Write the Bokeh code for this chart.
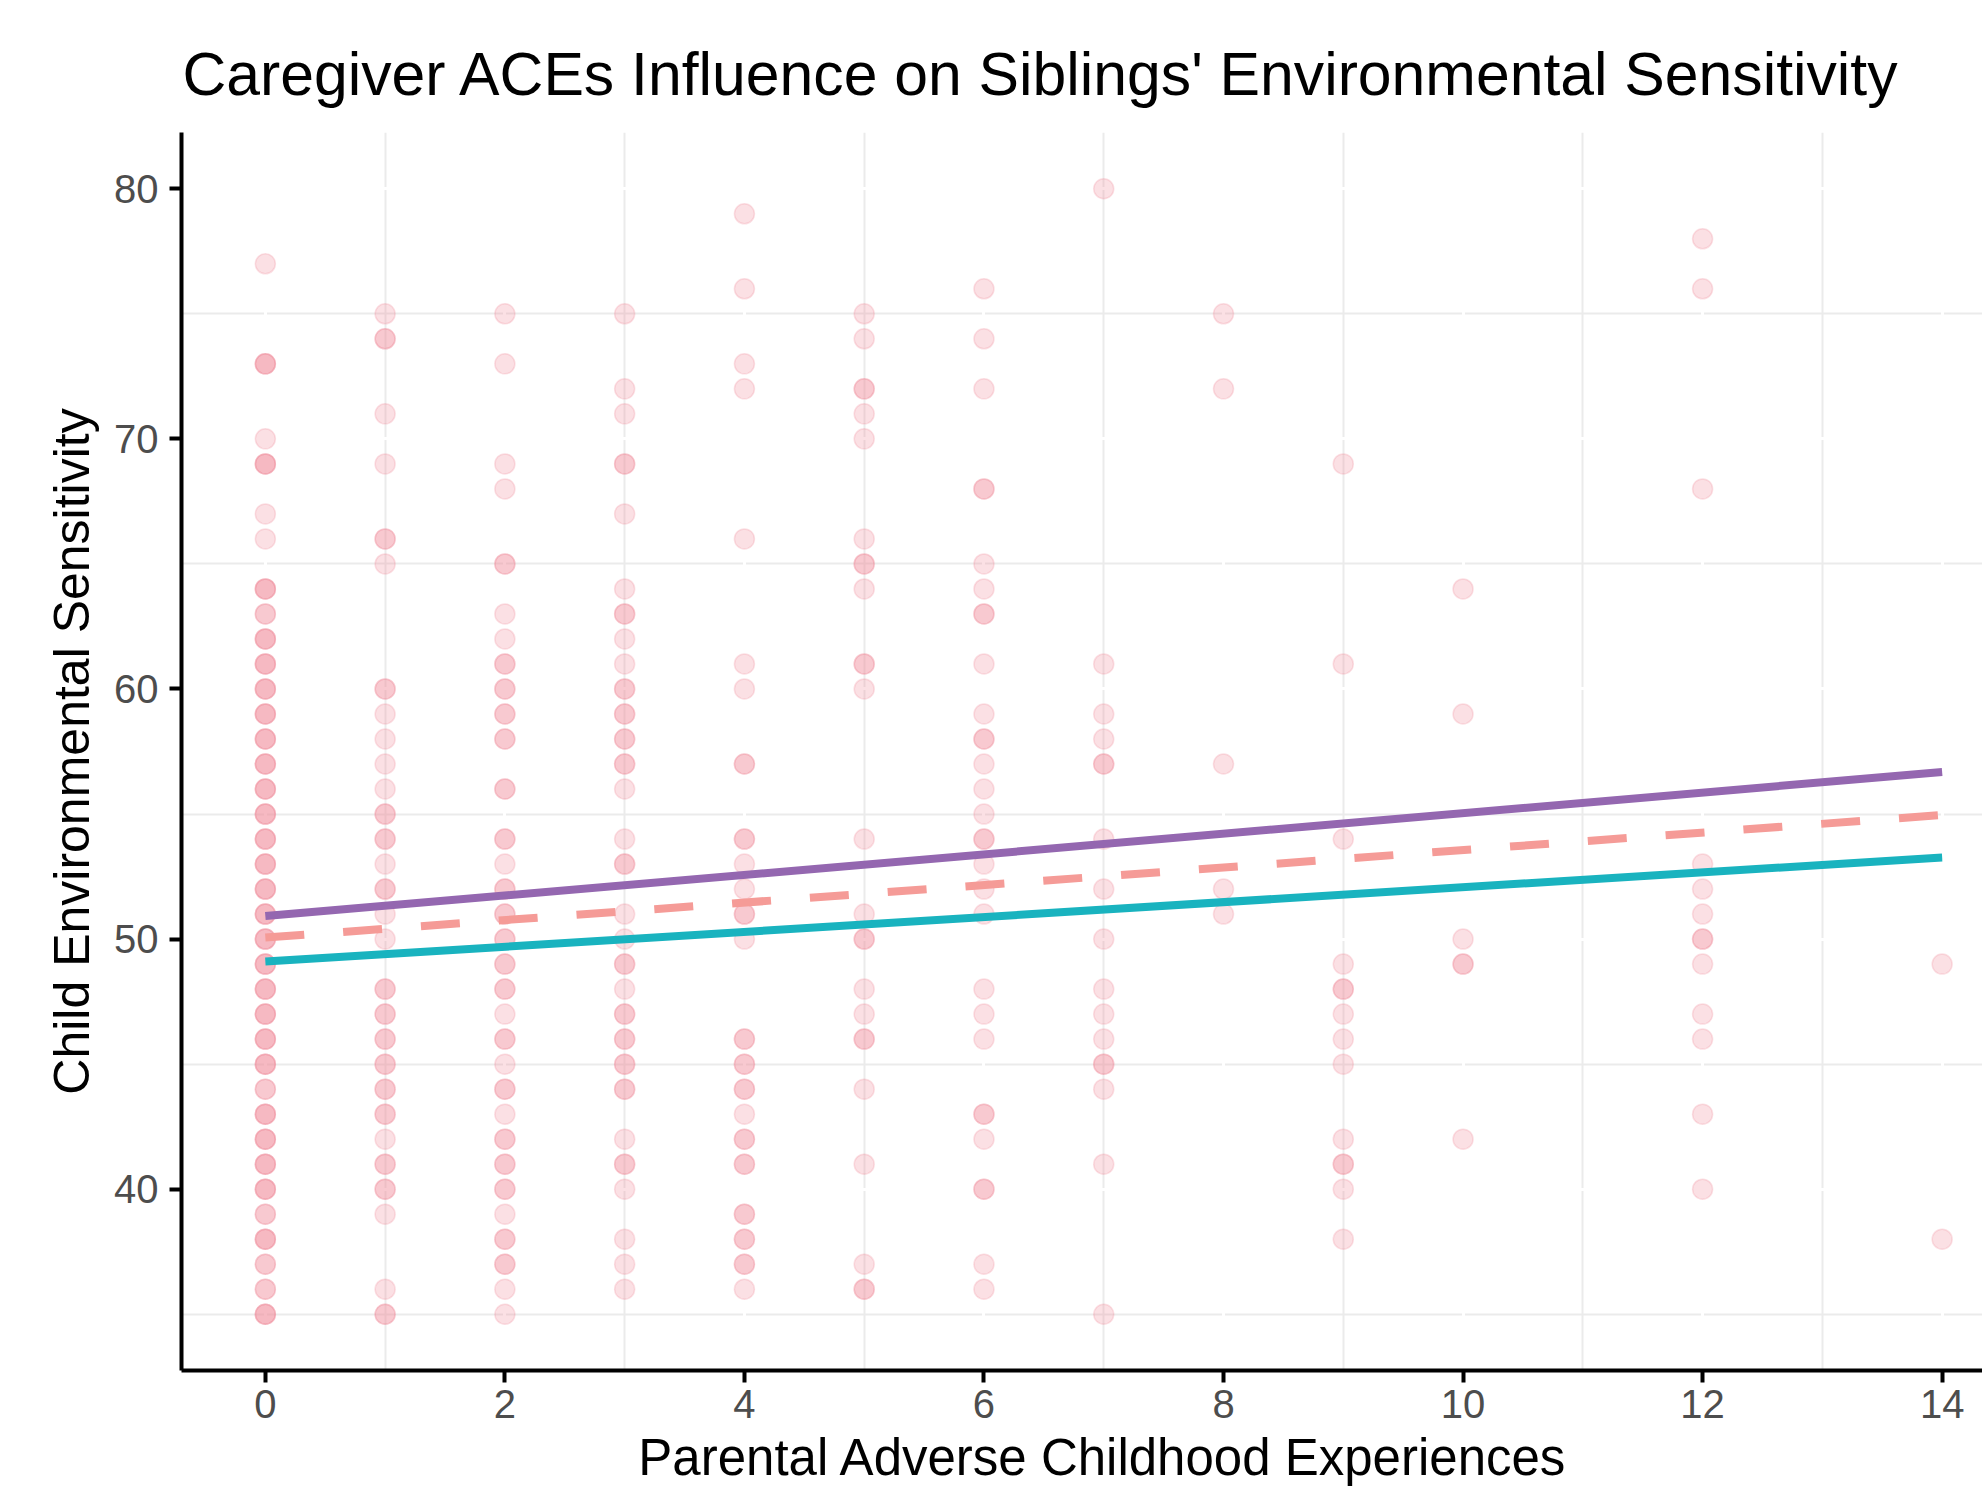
from bokeh.plotting import figure
from bokeh.models import Range1d, FixedTicker, Grid
from bokeh.embed import file_html
from bokeh.resources import INLINE

# ---------------- data ----------------
title_text = "Caregiver ACEs Influence on Siblings' Environmental Sensitivity"
x_title = "Parental Adverse Childhood Experiences"
y_title = "Child Environmental Sensitivity"

x_ticks = [0, 2, 4, 6, 8, 10, 12, 14]
x_minor = [1, 3, 5, 7, 9, 11, 13]
y_ticks = [40, 50, 60, 70, 80]
y_minor = [35, 45, 55, 65, 75]

# observed sensitivity scores per parental ACE count, with overlap counts
col0_y = [77, 73, 70, 69, 67, 66, 64, 63, 62, 61, 60, 59, 58, 57, 56, 55, 54, 53, 52, 51,
          50, 49, 48, 47, 46, 45, 44, 43, 42, 41, 40, 39, 38, 37, 36, 35]
col0_n = [1, 3, 1, 3, 1, 1, 3, 2, 3, 3, 3, 3, 3, 3, 3, 3, 3, 3, 3, 3,
          3, 3, 3, 3, 3, 3, 2, 3, 3, 3, 3, 2, 3, 2, 2, 3]
col1_y = [75, 74, 71, 69, 66, 65, 60, 59, 58, 57, 56, 55, 54, 53, 52, 51, 50, 48, 47, 46,
          45, 44, 43, 42, 41, 40, 39, 36, 35]
col1_n = [1, 2, 1, 1, 2, 1, 2, 1, 1, 1, 1, 2, 2, 1, 2, 1, 1, 2, 2, 2,
          2, 2, 2, 1, 2, 2, 1, 1, 2]
col2_y = [75, 73, 69, 68, 65, 63, 62, 61, 60, 59, 58, 56, 54, 53, 52, 51, 50, 49, 48, 47,
          46, 45, 44, 43, 42, 41, 40, 39, 38, 37, 36, 35]
col2_n = [1, 1, 1, 1, 2, 1, 1, 2, 2, 2, 2, 2, 2, 1, 2, 2, 2, 2, 2, 1,
          2, 1, 2, 1, 2, 2, 2, 1, 2, 2, 1, 1]
col3_y = [75, 72, 71, 69, 67, 64, 63, 62, 61, 60, 59, 58, 57, 56, 54, 53, 51, 50, 49, 48,
          47, 46, 45, 44, 42, 41, 40, 38, 37, 36]
col3_n = [1, 1, 1, 2, 1, 1, 2, 1, 1, 2, 2, 2, 2, 1, 1, 2, 1, 1, 2, 1,
          2, 2, 2, 2, 1, 2, 1, 1, 1, 1]
col4_y = [79, 76, 73, 72, 66, 61, 60, 57, 54, 53, 52, 51, 50, 46, 45, 44, 43, 42, 41, 39,
          38, 37, 36]
col4_n = [1, 1, 1, 1, 1, 1, 1, 2, 2, 1, 1, 2, 1, 2, 2, 2, 1, 2, 2, 2,
          2, 2, 1]
col5_y = [75, 74, 72, 71, 70, 66, 65, 64, 61, 60, 54, 51, 50, 48, 47, 46, 44, 41, 37, 36]
col5_n = [1, 1, 2, 1, 1, 1, 2, 1, 2, 1, 1, 1, 2, 1, 1, 2, 1, 1, 1, 2]
col6_y = [76, 74, 72, 68, 65, 64, 63, 61, 59, 58, 57, 56, 55, 54, 53, 52, 51, 48, 47, 46,
          43, 42, 40, 37, 36]
col6_n = [1, 1, 1, 2, 1, 1, 2, 1, 1, 2, 1, 1, 1, 2, 1, 1, 1, 1, 1, 1,
          2, 1, 2, 1, 1]
col7_y = [80, 61, 59, 58, 57, 54, 52, 50, 48, 47, 46, 45, 44, 41, 35]
col7_n = [1, 1, 1, 1, 2, 1, 1, 1, 1, 1, 1, 2, 1, 1, 1]
col8_y = [75, 72, 57, 52, 51]
col8_n = [1, 1, 1, 1, 1]
col9_y = [69, 61, 54, 49, 48, 47, 46, 45, 42, 41, 40, 38]
col9_n = [1, 1, 1, 1, 2, 1, 1, 1, 1, 2, 1, 1]
col10_y = [64, 59, 50, 49, 42]
col10_n = [1, 1, 1, 2, 1]
col12_y = [78, 76, 68, 53, 52, 51, 50, 49, 47, 46, 43, 40]
col12_n = [1, 1, 1, 1, 1, 1, 2, 1, 1, 1, 1, 1]
col14_y = [49, 38]
col14_n = [1, 1]

columns = [(0, col0_y, col0_n), (1, col1_y, col1_n), (2, col2_y, col2_n),
           (3, col3_y, col3_n), (4, col4_y, col4_n), (5, col5_y, col5_n),
           (6, col6_y, col6_n), (7, col7_y, col7_n), (8, col8_y, col8_n),
           (9, col9_y, col9_n), (10, col10_y, col10_n), (12, col12_y, col12_n),
           (14, col14_y, col14_n)]

# fitted lines (endpoints at ACE = 0 and 14)
fit_x = [0, 14]
fit_high = [50.92, 56.68]   # purple
fit_mean = [50.06, 54.96]   # dashed salmon
fit_low = [49.10, 53.26]    # teal

# ---------------- build points ----------------
pts_x, pts_y = [], []
for xv, ys, ns in columns:
    for yv, n in zip(ys, ns):
        for _ in range(n):
            pts_x.append(xv)
            pts_y.append(yv)

FONT = "Liberation Sans"

p = figure(width=1982, height=1488,
           x_range=Range1d(-0.7, 14.337), y_range=Range1d(32.75, 82.25),
           output_backend="svg", toolbar_location=None,
           min_border_left=181, min_border_right=0,
           min_border_top=132, min_border_bottom=117)

p.background_fill_color = "white"
p.border_fill_color = "white"
p.outline_line_color = None

xt = FixedTicker(ticks=x_ticks, minor_ticks=x_minor)
yt = FixedTicker(ticks=y_ticks, minor_ticks=y_minor)
p.xaxis.ticker = xt
p.yaxis.ticker = yt

# minor grids (gray)
p.xgrid.ticker = xt
p.ygrid.ticker = yt
for g in (p.xgrid, p.ygrid):
    g.grid_line_color = None
    g.minor_grid_line_color = "#EBEBEB"
    g.minor_grid_line_width = 2
# major grids (white, drawn above minor)
p.add_layout(Grid(dimension=0, ticker=xt, grid_line_color="white", grid_line_width=3))
p.add_layout(Grid(dimension=1, ticker=yt, grid_line_color="white", grid_line_width=3))

for ax in (p.xaxis, p.yaxis):
    ax.axis_line_color = "black"
    ax.axis_line_width = 4
    ax.major_tick_line_color = "black"
    ax.major_tick_line_width = 4
    ax.major_tick_out = 12
    ax.major_tick_in = 0
    ax.minor_tick_line_color = None
    ax.major_label_text_font = FONT
    ax.major_label_text_font_size = "40px"
    ax.major_label_text_color = "#4D4D4D"
    ax.axis_label_text_font = FONT
    ax.axis_label_text_font_style = "normal"
    ax.axis_label_text_color = "black"

p.xaxis.major_label_standoff = 7
p.yaxis.major_label_standoff = 11

p.yaxis.axis_label = y_title
p.yaxis.axis_label_text_font_size = "50px"
p.yaxis.axis_label_standoff = 11
# leading no-break spaces re-centre the title on the full (partly off-canvas) panel
p.xaxis.axis_label = "\u00a0\u00a0\u00a0" + x_title
p.xaxis.axis_label_text_font_size = "51px"
p.xaxis.axis_label_standoff = 8

p.title.text = title_text
p.title.text_font = FONT
p.title.text_font_size = "60.7px"
p.title.text_font_style = "normal"
p.title.text_color = "black"
p.title.align = "left"
p.title.offset = 1
p.title.standoff = 50

# points
pt_color = "#EF8E9F"
p.scatter(pts_x, pts_y, size=20, fill_color=pt_color, fill_alpha=0.28,
          line_color=pt_color, line_alpha=0.28, line_width=1.5)

# fitted lines
p.line(fit_x, fit_high, line_color="#9467B0", line_width=8)
p.line(fit_x, fit_mean, line_color="#F59B97", line_width=8, line_dash="39 39")
p.line(fit_x, fit_low, line_color="#19B3BF", line_width=8)

open("out.html", "w").write(file_html(p, INLINE))
